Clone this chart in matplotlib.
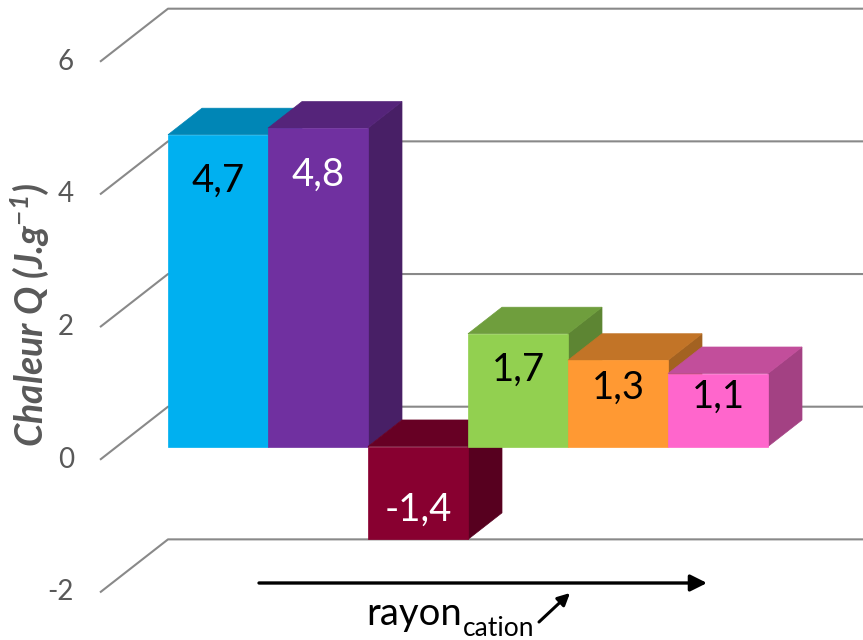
import matplotlib.pyplot as plt
from matplotlib.patches import Polygon
from matplotlib.colors import to_rgb

# heat per cation, left to right by increasing radius
values = [4.7, 4.8, -1.4, 1.7, 1.3, 1.1]
colors = ['#00B0F0', '#7030A0', '#880030', '#92D050', '#FF9933', '#FF66CC']
text_colors = ['black', 'white', 'white', 'black', 'black', 'black']
yticks = [-2, 0, 2, 4, 6]

plt.rcParams['font.family'] = ['Lato', 'DejaVu Sans']
plt.rcParams['mathtext.fontset'] = 'custom'
plt.rcParams['mathtext.rm'] = 'Lato:bold:italic'
plt.rcParams['mathtext.it'] = 'Lato:bold:italic'
plt.rcParams['mathtext.bf'] = 'Lato:bold:italic'

fig = plt.figure(figsize=(8.63, 6.4), dpi=100)
ax = fig.add_axes([0, 0, 1, 1])
ax.set_xlim(-2.18, 6.45)
ax.set_ylim(-2.917, 6.731)
ax.axis('off')

# oblique offset for one bar depth
DX, DV = 0.34, 0.40


def shade(c, k):
    r, g, b = to_rgb(c)
    return (r * k, g * k, b * k)


# side wall + back wall gridlines
for t in yticks:
    xs = [-1.18, -1.18 + 2 * DX, 6.45]
    ys = [t - 0.5 * DV, t + 1.5 * DV, t + 1.5 * DV]
    ax.plot(xs, ys, color='#898989', lw=1.5, zorder=1, solid_capstyle='butt')
    ax.text(-1.44, t - 0.5 * DV, str(t), ha='right', va='center',
            fontsize=20, color='#595959')

# 3d bars: right side, top, front
for i, (v, c, tc) in enumerate(zip(values, colors, text_colors)):
    x0, x1 = i - 0.5, i + 0.5
    lo, hi = min(0, v), max(0, v)
    side = [(x1, lo), (x1 + DX, lo + DV), (x1 + DX, hi + DV), (x1, hi)]
    top = [(x0, hi), (x1, hi), (x1 + DX, hi + DV), (x0 + DX, hi + DV)]
    front = [(x0, lo), (x1, lo), (x1, hi), (x0, hi)]
    for pts, k in ((side, 0.64), (top, 0.76), (front, 1.0)):
        ax.add_patch(Polygon(pts, closed=True, fc=shade(c, k), ec=shade(c, k),
                             lw=0.5, zorder=2 + i))
    off = min(0.7, 0.32 * abs(v))
    ly = v - off if v > 0 else v + off
    ax.text(i, ly, f'{v:.1f}'.replace('.', ','), ha='center', va='center',
            fontsize=27.5, color=tc, zorder=20)

# axis title
fig.text(30 / 863, 1 - 315 / 640, r'Chaleur Q (J.g$^{-1}$)', rotation=90,
         ha='center', va='center', fontsize=27, fontweight='bold',
         fontstyle='italic', color='#595959')

# direction of increasing cation radius
ax.annotate('', xy=(707, 57), xytext=(259, 57), xycoords='figure pixels',
            arrowprops=dict(arrowstyle='-|>', lw=2.4, color='black',
                            mutation_scale=25, shrinkA=0, shrinkB=0))
ax.annotate('', xy=(570, 47), xytext=(539, 18), xycoords='figure pixels',
            arrowprops=dict(arrowstyle='-|>', lw=2.2, color='black',
                            mutation_scale=18, shrinkA=0, shrinkB=0))
fig.text(366 / 863, 1 - 625 / 640, 'rayon', fontsize=27.5, ha='left', va='baseline')
fig.text(463 / 863, 1 - 636 / 640, 'cation', fontsize=19, ha='left', va='baseline')

fig.savefig('out.png', dpi=100)
